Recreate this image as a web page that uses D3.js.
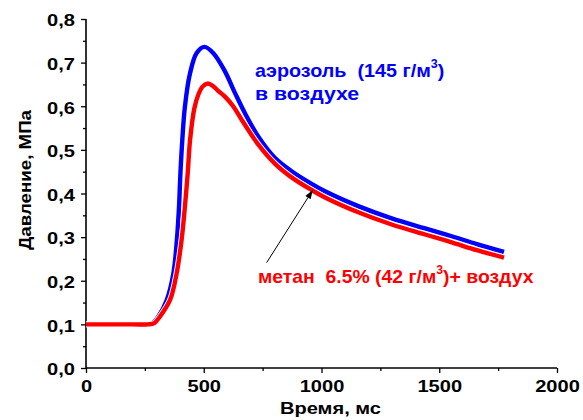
<!DOCTYPE html>
<html lang="ru">
<head>
<meta charset="utf-8">
<title>Давление</title>
<script src="https://cdn.jsdelivr.net/npm/d3@7"></script>
<style>
  body { margin: 0; background: #fff; }
  text { font-family: "Liberation Sans", Arial, sans-serif; font-weight: bold; white-space: pre; }
</style>
</head>
<body>
<script>
// data: time in ms, pressure in MPa
var blueT = [0, 100, 200, 250, 280, 307, 343, 371, 386, 395, 401, 409, 420, 442, 470, 503, 540, 590, 633, 675, 732, 803, 873, 958, 1015, 1156, 1298, 1440, 1553, 1660, 1775];
var blueP = [0.1, 0.1, 0.1, 0.1, 0.102, 0.118, 0.156, 0.217, 0.294, 0.37, 0.447, 0.523, 0.599, 0.676, 0.722, 0.736, 0.722, 0.68, 0.63, 0.584, 0.53, 0.481, 0.451, 0.422, 0.405, 0.371, 0.343, 0.32, 0.302, 0.284, 0.266];
var redT = [0, 100, 200, 263, 290, 314, 357, 385, 406, 420, 432, 442, 460, 478, 495, 515, 535, 560, 590, 625, 661, 732, 803, 873, 958, 1015, 1156, 1298, 1440, 1553, 1660, 1775];
var redP = [0.1, 0.1, 0.1, 0.1, 0.103, 0.118, 0.156, 0.217, 0.294, 0.37, 0.447, 0.523, 0.595, 0.628, 0.645, 0.652, 0.648, 0.636, 0.622, 0.6, 0.569, 0.512, 0.468, 0.437, 0.408, 0.391, 0.357, 0.329, 0.306, 0.288, 0.27, 0.253];
var xTicks = [0, 500, 1000, 1500, 2000];
var yTicks = [0, 0.1, 0.2, 0.3, 0.4, 0.5, 0.6, 0.7, 0.8];
var arrowFrom = [767, 0.2415], arrowTo = [963, 0.408];

var w = 583, h = 420;

var x = d3.scaleLinear().domain([0, 2000]).range([86, 557]);
var y = d3.scaleLinear().domain([0, 0.8]).range([368, 19]);

var svg = d3.select("body").append("svg")
  .attr("width", w)
  .attr("height", h);

svg.append("defs").append("marker")
  .attr("id", "head")
  .attr("viewBox", "0 0 10 10")
  .attr("refX", 10).attr("refY", 5)
  .attr("markerWidth", 9).attr("markerHeight", 9)
  .attr("markerUnits", "userSpaceOnUse")
  .attr("orient", "auto")
  .append("path").attr("d", "M0,1.5 L10,5 L0,8.5 Z").attr("fill", "#000");

// widen a text to look like the source font
function widen(sel, k) {
  sel.each(function() {
    var n = this.getComputedTextLength();
    if (n > 0) d3.select(this).attr("textLength", n * k).attr("lengthAdjust", "spacingAndGlyphs");
  });
}

// axes
var xAxis = d3.axisBottom(x).tickValues(xTicks).tickSize(5).tickPadding(7).tickFormat(d3.format("d"));
var yAxis = d3.axisLeft(y).tickValues(yTicks).tickSize(5).tickPadding(6)
  .tickFormat(function(d) { return d3.format(".1f")(d).replace(".", ","); });

// minor ticks
svg.append("g").attr("transform", "translate(0," + y(0) + ")")
  .call(d3.axisBottom(x).tickValues([250, 750, 1250, 1750]).tickSize(3).tickFormat(""))
  .call(function(g) { g.select(".domain").remove(); })
  .selectAll("line").attr("stroke-width", 1.3);
svg.append("g").attr("transform", "translate(" + x(0) + ",0)")
  .call(d3.axisLeft(y).tickValues([0.05, 0.15, 0.25, 0.35, 0.45, 0.55, 0.65, 0.75]).tickSize(3).tickFormat(""))
  .call(function(g) { g.select(".domain").remove(); })
  .selectAll("line").attr("stroke-width", 1.3);

var gx = svg.append("g").attr("transform", "translate(0," + y(0) + ")").call(xAxis);
var gy = svg.append("g").attr("transform", "translate(" + x(0) + ",0)").call(yAxis);
[gx, gy].forEach(function(g) {
  g.select(".domain").attr("d", g === gx ? "M" + x(0) + ",0H" + x(2000) : "M0," + y(0.8) + "V" + y(0))
    .attr("stroke-width", 1.6);
  g.selectAll(".tick line").attr("stroke-width", 1.3);
  g.selectAll("text").attr("font-size", 17).attr("font-family", null).attr("fill", "#000");
  widen(g.selectAll("text"), 1.18);
});
gy.selectAll(".tick text").attr("dy", "0.4em");

// curves
var line = d3.line()
  .x(function(d) { return x(d[0]); })
  .y(function(d) { return y(d[1]); })
  .curve(d3.curveCatmullRom.alpha(0.5));

var blue = d3.zip(blueT, blueP);
var red = d3.zip(redT, redP);

svg.append("path").datum(blue).attr("d", line)
  .attr("fill", "none").attr("stroke", "#0000ff").attr("stroke-width", 4.4);
svg.append("path").datum(red).attr("d", line)
  .attr("fill", "none").attr("stroke", "#fff").attr("stroke-width", 6.2);
svg.append("path").datum(red).attr("d", line)
  .attr("fill", "none").attr("stroke", "#ff0000").attr("stroke-width", 4.4);

// arrow
svg.append("line")
  .attr("x1", x(arrowFrom[0])).attr("y1", y(arrowFrom[1]))
  .attr("x2", x(arrowTo[0])).attr("y2", y(arrowTo[1]))
  .attr("stroke", "#000").attr("stroke-width", 1)
  .attr("marker-end", "url(#head)");

// labels
function label(tx, ty, color, parts) {
  var t = svg.append("text").attr("x", tx).attr("y", ty)
    .attr("fill", color).attr("font-size", 19);
  parts.forEach(function(p) {
    var s = t.append("tspan").text(p[0]);
    if (p[1]) s.attr("font-size", 12).attr("dy", -9);
    if (p[2]) s.attr("dy", 9);
  });
  return t;
}
widen(label(x(718), y(0.667), "#0000ff", [["аэрозоль  (145 г/м"], ["3", true], [")", false, true]]), 1.04);
widen(label(x(718), y(0.615), "#0000ff", [["в воздухе"]]), 1.12);
widen(label(x(730), y(0.195), "#ff0000", [["метан  6.5% (42 г/м"], ["3", true], [")+ воздух", false, true]]), 1.02);

var xt = svg.append("text")
  .attr("x", (x(0) + x(2000)) / 2 + 9).attr("y", 414)
  .attr("text-anchor", "middle").attr("font-size", 17)
  .text("Время, мс");
var yt = svg.append("text")
  .attr("transform", "translate(31,180) rotate(-90)")
  .attr("text-anchor", "middle").attr("font-size", 17)
  .text("Давление, МПа");
widen(xt, 1.18);
widen(yt, 1.1);
</script>
</body>
</html>
